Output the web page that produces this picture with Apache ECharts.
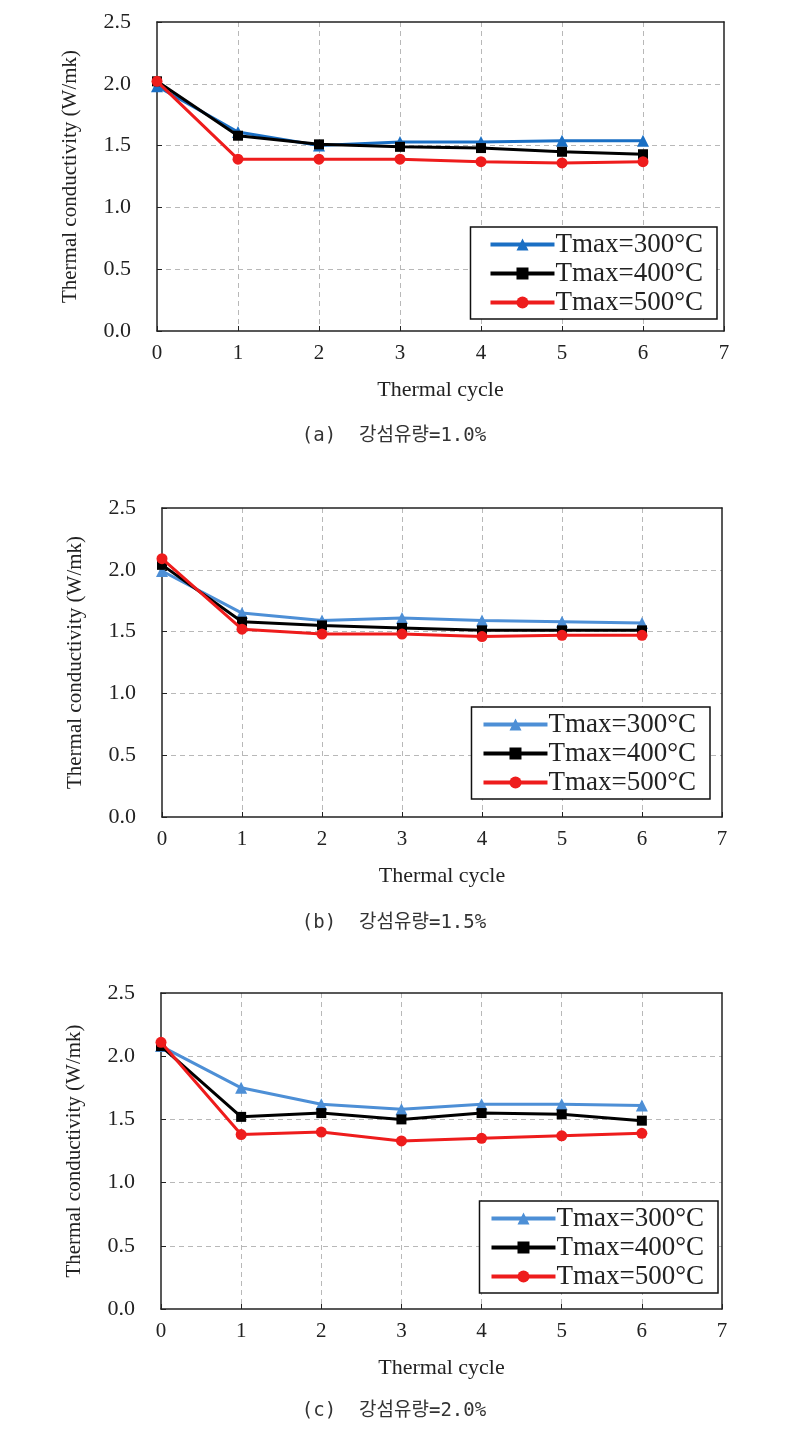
<!DOCTYPE html>
<html>
<head>
<meta charset="utf-8">
<script src="https://cdn.jsdelivr.net/npm/echarts@6/dist/echarts.min.js"></script>
<style>
html,body{margin:0;padding:0;background:#fff;}
#chart{width:788px;height:1442px;}
</style>
</head>
<body>
<div id="chart"></div>
<script>
const cycles = [0, 1, 2, 3, 4, 5, 6];
const xTicks = [0, 1, 2, 3, 4, 5, 6, 7];
const yTicks = [0.0, 0.5, 1.0, 1.5, 2.0, 2.5];
const seriesNames = ['Tmax=300°C', 'Tmax=400°C', 'Tmax=500°C'];
const captions = ['(a)  강섬유량=1.0%', '(b)  강섬유량=1.5%', '(c)  강섬유량=2.0%'];

// Panel (a) fibre 1.0%
const a300 = [1.98, 1.61, 1.50, 1.53, 1.53, 1.54, 1.54];
const a400 = [2.02, 1.58, 1.51, 1.49, 1.48, 1.45, 1.43];
const a500 = [2.02, 1.39, 1.39, 1.39, 1.37, 1.36, 1.37];
// Panel (b) fibre 1.5%
const b300 = [1.99, 1.65, 1.59, 1.61, 1.59, 1.58, 1.57];
const b400 = [2.04, 1.58, 1.55, 1.53, 1.51, 1.51, 1.51];
const b500 = [2.09, 1.52, 1.48, 1.48, 1.46, 1.47, 1.47];
// Panel (c) fibre 2.0%
const c300 = [2.08, 1.75, 1.62, 1.58, 1.62, 1.62, 1.61];
const c400 = [2.08, 1.52, 1.55, 1.50, 1.55, 1.54, 1.49];
const c500 = [2.11, 1.38, 1.40, 1.33, 1.35, 1.37, 1.39];

const panels = [
  {data: [a300, a400, a500], blue: '#1a6fc4', grid: {left: 157, top: 22, width: 567, height: 309}, legend: {right: 788 - 717, top: 227, padL: 18}, cap: 438},
  {data: [b300, b400, b500], blue: '#4d8fd6', grid: {left: 162, top: 508, width: 560, height: 309}, legend: {right: 788 - 710, top: 707, padL: 10}, cap: 925},
  {data: [c300, c400, c500], blue: '#4d8fd6', grid: {left: 161, top: 993, width: 561, height: 316}, legend: {right: 788 - 718, top: 1201, padL: 10}, cap: 1413}
];

const serif = 'Liberation Serif';
const grids = [], xAxes = [], yAxes = [], series = [], legends = [], graphics = [];
const frameLine = {show: true, onZero: false, lineStyle: {color: '#222', width: 1.5}};

panels.forEach((p, i) => {
  grids.push(Object.assign({show: false}, p.grid));
  xAxes.push({
    type: 'value', gridIndex: i, min: 0, max: 7, interval: 1, position: 'bottom',
    name: 'Thermal cycle', nameLocation: 'middle', nameGap: 48,
    nameTextStyle: {fontFamily: serif, fontSize: 22, color: '#222'},
    axisLine: frameLine,
    axisTick: {show: true, inside: true, length: 5, lineStyle: {color: '#222'}},
    axisLabel: {fontFamily: serif, fontSize: 21, color: '#222', margin: 12},
    splitLine: {show: true, showMinLine: false, showMaxLine: false, lineStyle: {color: '#b8b8b8', type: [5, 4], width: 1}}
  });
  yAxes.push({
    type: 'value', gridIndex: i, min: 0, max: 2.5, interval: 0.5, position: 'left',
    name: 'Thermal conductivity (W/mk)', nameLocation: 'middle', nameGap: 76,
    nameTextStyle: {fontFamily: serif, fontSize: 21, color: '#222'},
    axisLine: frameLine,
    axisTick: {show: true, inside: true, length: 5, lineStyle: {color: '#222'}},
    axisLabel: {fontFamily: serif, fontSize: 22, color: '#222', margin: 26, formatter: v => v.toFixed(1)},
    splitLine: {show: true, showMinLine: false, showMaxLine: false, lineStyle: {color: '#b8b8b8', type: [5, 4], width: 1}}
  });
  const colors = [p.blue, '#000000', '#ee1c1c'];
  const symbols = ['triangle', 'rect', 'circle'];
  const sizes = [12, 10, 11];
  p.data.forEach((vals, k) => {
    series.push({
      type: 'line', name: seriesNames[k], xAxisIndex: i, yAxisIndex: i,
      data: cycles.map((c, j) => [c, vals[j]]),
      symbol: symbols[k], symbolSize: sizes[k],
      itemStyle: {color: colors[k]},
      lineStyle: {color: colors[k], width: 3},
      z: 3 + k
    });
  });
  legends.push({
    orient: 'vertical', right: p.legend.right, top: p.legend.top,
    backgroundColor: '#fff', borderColor: '#111', borderWidth: 1.5,
    padding: [4, 14, 3, p.legend.padL], itemGap: 2, itemWidth: 64, itemHeight: 15,
    textStyle: {fontFamily: serif, fontSize: 27, color: '#222', padding: [0, 0, 0, -4]},
    data: seriesNames.map((n, k) => ({name: n, itemStyle: {color: colors[k]}, lineStyle: {color: colors[k], width: 4}})),
    selectedMode: false
  });
  graphics.push({
    type: 'text', left: 'center', top: p.cap - 11,
    style: {text: captions[i], font: '19px "DejaVu Sans Mono", "Noto Sans CJK KR"', fill: '#333'}
  });
});

// top and right frame axes
panels.forEach((p, i) => {
  xAxes.push({type: 'value', gridIndex: i, min: 0, max: 7, interval: 1, position: 'top',
    axisLine: frameLine, axisTick: {show: false}, axisLabel: {show: false}, splitLine: {show: false}});
  yAxes.push({type: 'value', gridIndex: i, min: 0, max: 2.5, interval: 0.5, position: 'right',
    axisLine: frameLine, axisTick: {show: false}, axisLabel: {show: false}, splitLine: {show: false}});
});

const chart = echarts.init(document.getElementById('chart'));
chart.setOption({
  animation: false,
  backgroundColor: '#fff',
  grid: grids, xAxis: xAxes, yAxis: yAxes, series: series,
  legend: legends, graphic: graphics
});
</script>
</body>
</html>
